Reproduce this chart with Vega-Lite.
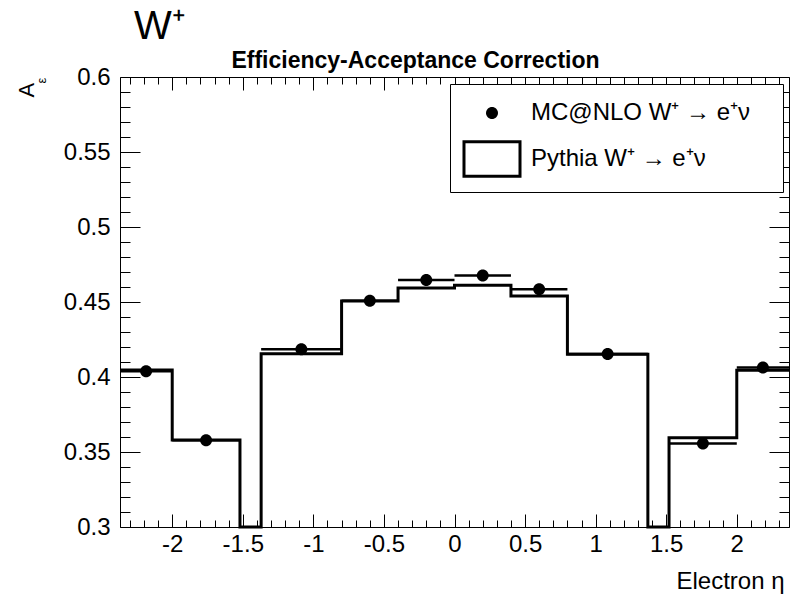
{
  "$schema": "https://vega.github.io/schema/vega-lite/v6.json",
  "autosize": {"type": "none"},
  "width": 669,
  "height": 450,
  "padding": {"left": 120, "top": 77, "right": 4, "bottom": 73},
  "background": "white",
  "title": {"text": "W⁺", "anchor": "start", "frame": "group", "font": "Liberation Sans", "fontSize": 40, "fontWeight": "normal", "color": "black", "dx": 14, "offset": 2},
  "config": {
    "font": "Liberation Sans",
    "view": {"stroke": "black", "strokeWidth": 1},
    "axis": {"domain": false, "grid": false, "tickColor": "black", "tickWidth": 1, "labelColor": "black", "titleColor": "black", "labelFont": "Liberation Sans", "titleFont": "Liberation Sans", "labelFlush": false, "labelOverlap": false, "labelBound": false}
  },
  "data": {"values": [
    {"lo": -2.37, "hi": -2.0, "eta": -2.185, "mc": 0.4038, "pythia": 0.4047},
    {"lo": -2.0, "hi": -1.52, "eta": -1.76, "mc": 0.3578, "pythia": 0.3580},
    {"lo": -1.52, "hi": -1.37, "eta": -1.445, "mc": null, "pythia": 0},
    {"lo": -1.37, "hi": -0.8, "eta": -1.085, "mc": 0.4185, "pythia": 0.4155},
    {"lo": -0.8, "hi": -0.4, "eta": -0.6, "mc": 0.4508, "pythia": 0.4506},
    {"lo": -0.4, "hi": 0, "eta": -0.2, "mc": 0.4647, "pythia": 0.4594},
    {"lo": 0, "hi": 0.4, "eta": 0.2, "mc": 0.4676, "pythia": 0.4611},
    {"lo": 0.4, "hi": 0.8, "eta": 0.6, "mc": 0.4585, "pythia": 0.4540},
    {"lo": 0.8, "hi": 1.37, "eta": 1.085, "mc": 0.4153, "pythia": 0.4151},
    {"lo": 1.37, "hi": 1.52, "eta": 1.445, "mc": null, "pythia": 0},
    {"lo": 1.52, "hi": 2.0, "eta": 1.76, "mc": 0.3557, "pythia": 0.3595},
    {"lo": 2.0, "hi": 2.37, "eta": 2.185, "mc": 0.4063, "pythia": 0.4045}
  ]},
  "resolve": {"axis": {"x": "independent", "y": "independent"}},
  "layer": [
    {
      "transform": [{"fold": ["lo", "hi"], "as": ["side", "edge"]}],
      "mark": {"type": "line", "color": "black", "strokeWidth": 3, "strokeJoin": "miter", "strokeCap": "butt", "clip": false},
      "encoding": {
        "x": {"field": "edge", "type": "quantitative", "scale": {"domain": [-2.37, 2.37], "nice": false, "zero": false},
          "axis": {"orient": "bottom",
            "values": [-2.3,-2.2,-2.1,-2.0,-1.9,-1.8,-1.7,-1.6,-1.5,-1.4,-1.3,-1.2,-1.1,-1.0,-0.9,-0.8,-0.7,-0.6,-0.5,-0.4,-0.3,-0.2,-0.1,0,0.1,0.2,0.3,0.4,0.5,0.6,0.7,0.8,0.9,1.0,1.1,1.2,1.3,1.4,1.5,1.6,1.7,1.8,1.9,2.0,2.1,2.2,2.3],
            "labelExpr": "abs(datum.value*2-round(datum.value*2))<1e-6 ? (datum.value+'') : ''",
            "tickSize": {"condition": {"test": "abs(datum.value*2-round(datum.value*2))<1e-6", "value": -13}, "value": -7},
            "labelPadding": 18, "labelFontSize": 24,
            "title": "Electron η", "titleX": 664, "titleY": 61, "titleAlign": "right", "titleBaseline": "alphabetic", "titleFontSize": 24, "titleFontWeight": "normal"}},
        "y": {"field": "pythia", "type": "quantitative", "scale": {"domain": [0.3, 0.6], "nice": false, "zero": false, "clamp": true},
          "axis": {"orient": "left",
            "values": [0.3,0.31,0.32,0.33,0.34,0.35,0.36,0.37,0.38,0.39,0.4,0.41,0.42,0.43,0.44,0.45,0.46,0.47,0.48,0.49,0.5,0.51,0.52,0.53,0.54,0.55,0.56,0.57,0.58,0.59,0.6],
            "labelExpr": "abs(datum.value*20-round(datum.value*20))<1e-6 ? (datum.value+'') : ''",
            "tickSize": {"condition": {"test": "abs(datum.value*20-round(datum.value*20))<1e-6", "value": -20}, "value": -10},
            "labelPadding": 30, "labelFontSize": 24,
            "title": "A", "titleX": -87, "titleY": 20, "titleAngle": -90, "titleAlign": "left", "titleBaseline": "alphabetic", "titleFontSize": 22, "titleFontWeight": "normal"}},
        "order": [{"field": "edge", "type": "quantitative"}, {"field": "side", "type": "nominal"}]
      }
    },
    {
      "mark": {"type": "rule", "color": "black", "strokeWidth": 2.5},
      "encoding": {
        "x": {"field": "lo", "type": "quantitative", "scale": {"domain": [-2.37, 2.37], "nice": false, "zero": false},
          "axis": {"orient": "top",
            "values": [-2.3,-2.2,-2.1,-2.0,-1.9,-1.8,-1.7,-1.6,-1.5,-1.4,-1.3,-1.2,-1.1,-1.0,-0.9,-0.8,-0.7,-0.6,-0.5,-0.4,-0.3,-0.2,-0.1,0,0.1,0.2,0.3,0.4,0.5,0.6,0.7,0.8,0.9,1.0,1.1,1.2,1.3,1.4,1.5,1.6,1.7,1.8,1.9,2.0,2.1,2.2,2.3],
            "labels": false,
            "tickSize": {"condition": {"test": "abs(datum.value*2-round(datum.value*2))<1e-6", "value": -13}, "value": -7},
            "title": "Efficiency-Acceptance Correction", "titleX": 295, "titleY": -10, "titleAlign": "center", "titleBaseline": "alphabetic", "titleFontSize": 23, "titleFontWeight": "bold"}},
        "x2": {"field": "hi"},
        "y": {"field": "mc", "type": "quantitative", "scale": {"domain": [0.3, 0.6], "nice": false, "zero": false, "clamp": true},
          "axis": {"orient": "right",
            "values": [0.3,0.31,0.32,0.33,0.34,0.35,0.36,0.37,0.38,0.39,0.4,0.41,0.42,0.43,0.44,0.45,0.46,0.47,0.48,0.49,0.5,0.51,0.52,0.53,0.54,0.55,0.56,0.57,0.58,0.59,0.6],
            "labels": false,
            "tickSize": {"condition": {"test": "abs(datum.value*20-round(datum.value*20))<1e-6", "value": -20}, "value": -10},
            "title": "ε", "titleX": -744, "titleY": 6, "titleAngle": -90, "titleAlign": "left", "titleBaseline": "alphabetic", "titleFontSize": 13, "titleFontWeight": "normal"}}
      }
    },
    {
      "mark": {"type": "point", "filled": true, "color": "black", "opacity": 1, "size": 900},
      "encoding": {
        "x": {"field": "eta", "type": "quantitative", "scale": {"domain": [-2.37, 2.37], "nice": false, "zero": false}, "axis": null},
        "y": {"field": "mc", "type": "quantitative", "scale": {"domain": [0.3, 0.6], "nice": false, "zero": false, "clamp": true}, "axis": null},
        "shape": {"datum": "MC@NLO W⁺ → e⁺ν", "type": "nominal",
          "scale": {"domain": ["MC@NLO W⁺ → e⁺ν", "Pythia W⁺ → e⁺ν"], "range": ["M-0.4,0A0.4,0.4 0 1,0 0.4,0A0.4,0.4 0 1,0 -0.4,0Z", "M-1.967,-1.25L1.967,-1.25L1.967,1.25L-1.967,1.25Z M-1.767,-1.05L-1.767,1.05L1.767,1.05L1.767,-1.05Z"]},
          "legend": {"title": null, "orient": "none", "legendX": 330, "legendY": 7, "symbolSize": 900, "symbolOffset": 13, "labelOffset": 24, "rowPadding": 15, "padding": 14,
            "fillColor": "white", "strokeColor": "black", "labelFont": "Liberation Sans", "labelFontSize": 24, "labelColor": "black", "labelLimit": 400,
            "symbolFillColor": "black", "symbolStrokeWidth": 0, "symbolOpacity": 1,
            "labelExpr": "datum.label + '\u2800'",
            "encode": {
              "legend": {"strokeWidth": {"value": 1.5}}
            }}}
      }
    }
  ]
}
